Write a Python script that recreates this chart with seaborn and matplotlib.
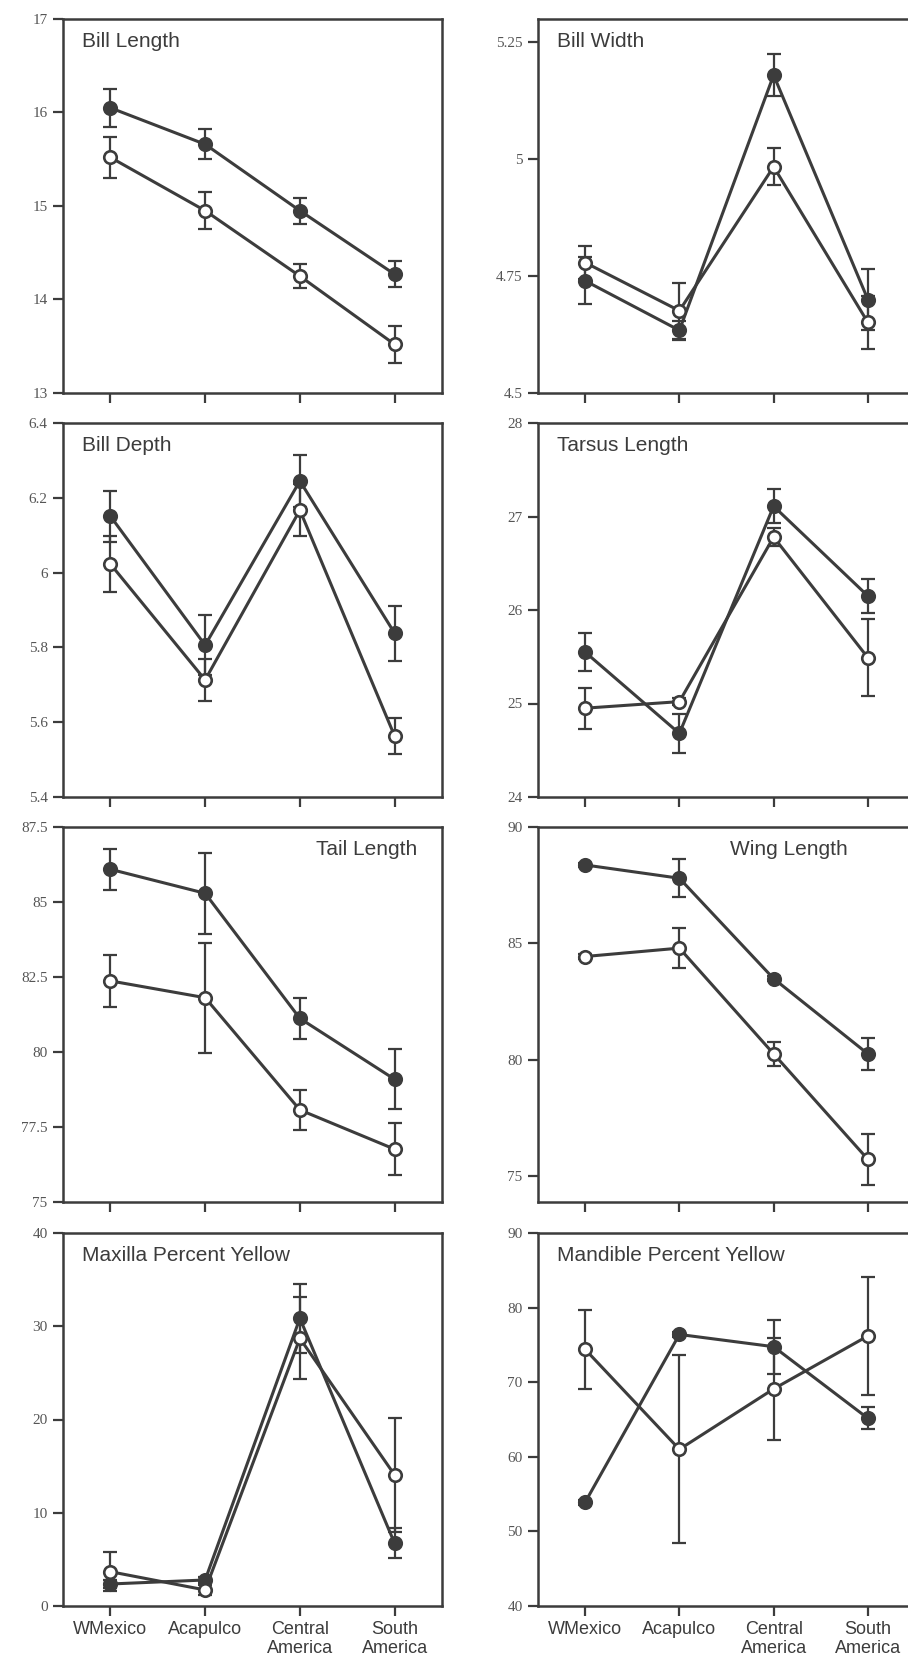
import numpy as np
import pandas as pd
import matplotlib
matplotlib.use("Agg")
import matplotlib.pyplot as plt
import seaborn as sns

sites = ["WMexico", "Acapulco", "Central\nAmerica", "South\nAmerica"]

# means and standard errors, filled symbols vs open symbols
bill_len_f = [16.05, 15.66, 14.95, 14.27]
bill_len_f_se = [0.2, 0.16, 0.14, 0.14]
bill_len_o = [15.52, 14.95, 14.25, 13.52]
bill_len_o_se = [0.22, 0.2, 0.13, 0.2]

bill_wid_f = [4.74, 4.634, 5.18, 4.70]
bill_wid_f_se = [0.05, 0.02, 0.045, 0.065]
bill_wid_o = [4.779, 4.676, 4.984, 4.651]
bill_wid_o_se = [0.035, 0.06, 0.04, 0.056]

bill_dep_f = [6.151, 5.806, 6.245, 5.838]
bill_dep_f_se = [0.068, 0.08, 0.07, 0.074]
bill_dep_o = [6.023, 5.713, 6.167, 5.563]
bill_dep_o_se = [0.074, 0.056, 0.07, 0.048]

tarsus_f = [25.55, 24.68, 27.11, 26.15]
tarsus_f_se = [0.2, 0.21, 0.18, 0.18]
tarsus_o = [24.95, 25.02, 26.78, 25.49]
tarsus_o_se = [0.22, 0.04, 0.1, 0.41]

tail_f = [86.09, 85.29, 81.12, 79.09]
tail_f_se = [0.68, 1.34, 0.68, 1.0]
tail_o = [82.37, 81.81, 78.07, 76.76]
tail_o_se = [0.88, 1.83, 0.66, 0.87]

wing_f = [88.37, 87.8, 83.49, 80.26]
wing_f_se = [0.1, 0.82, 0.1, 0.7]
wing_o = [84.44, 84.8, 80.26, 75.73]
wing_o_se = [0.1, 0.86, 0.5, 1.1]

maxilla_f = [2.36, 2.79, 30.85, 6.72]
maxilla_f_se = [0.4, 0.3, 3.7, 1.6]
maxilla_o = [3.68, 1.72, 28.7, 14.05]
maxilla_o_se = [2.1, 0.5, 4.4, 6.15]

mandible_f = [53.9, 76.4, 74.76, 65.16]
mandible_f_se = [0.3, 0.3, 3.6, 1.5]
mandible_o = [74.4, 61.0, 69.1, 76.2]
mandible_o_se = [5.3, 12.6, 6.8, 7.9]

titles = ["Bill Length", "Bill Width", "Bill Depth", "Tarsus Length",
          "Tail Length", "Wing Length", "Maxilla Percent Yellow", "Mandible Percent Yellow"]
ylims = [(13, 17), (4.5, 5.30), (5.4, 6.4), (24, 28),
         (75, 87.5), (73.9, 90), (0, 40), (40, 90)]
yticks = [[13, 14, 15, 16, 17], [4.5, 4.75, 5, 5.25], [5.4, 5.6, 5.8, 6, 6.2, 6.4], [24, 25, 26, 27, 28],
          [75, 77.5, 80, 82.5, 85, 87.5], [75, 80, 85, 90], [0, 10, 20, 30, 40], [40, 50, 60, 70, 80, 90]]
yticklabels = [["13", "14", "15", "16", "17"], ["4.5", "4.75", "5", "5.25"],
               ["5.4", "5.6", "5.8", "6", "6.2", "6.4"], ["24", "25", "26", "27", "28"],
               ["75", "77.5", "80", "82.5", "85", "87.5"], ["75", "80", "85", "90"],
               ["0", "10", "20", "30", "40"], ["40", "50", "60", "70", "80", "90"]]
title_pos = [(0.05, "left"), (0.05, "left"), (0.05, "left"), (0.05, "left"),
             (0.935, "right"), (0.51, "left"), (0.05, "left"), (0.05, "left")]

series = [
    (bill_len_f, bill_len_f_se, bill_len_o, bill_len_o_se),
    (bill_wid_f, bill_wid_f_se, bill_wid_o, bill_wid_o_se),
    (bill_dep_f, bill_dep_f_se, bill_dep_o, bill_dep_o_se),
    (tarsus_f, tarsus_f_se, tarsus_o, tarsus_o_se),
    (tail_f, tail_f_se, tail_o, tail_o_se),
    (wing_f, wing_f_se, wing_o, wing_o_se),
    (maxilla_f, maxilla_f_se, maxilla_o, maxilla_o_se),
    (mandible_f, mandible_f_se, mandible_o, mandible_o_se),
]

sns.set_style("ticks")
plt.rcParams["font.family"] = ["Liberation Sans", "DejaVu Sans"]

ink = "#3c3c3c"
W, H = 908, 1666
fig = plt.figure(figsize=(W / 100, H / 100), dpi=100)

cols = [(63, 442), (538, 915)]
rows = [(19, 393), (423, 797), (827, 1202), (1233, 1606)]

pos = np.arange(4)

for i, (title, (f, fse, o, ose)) in enumerate(zip(titles, series)):
    r, c = divmod(i, 2)
    x0, x1 = cols[c]
    y0, y1 = rows[r]
    ax = fig.add_axes([x0 / W, 1 - y1 / H, (x1 - x0) / W, (y1 - y0) / H])

    df = pd.DataFrame({"pos": np.concatenate([pos, pos]),
                       "mean": f + o,
                       "se": fse + ose,
                       "group": ["filled"] * 4 + ["open"] * 4})

    for grp, face in [("filled", ink), ("open", "white")]:
        sub = df[df["group"] == grp]
        ax.errorbar(sub["pos"], sub["mean"], yerr=sub["se"], fmt="none",
                    ecolor=ink, elinewidth=1.6, capsize=5, capthick=1.6, zorder=2)
        sns.lineplot(data=sub, x="pos", y="mean", ax=ax, color=ink, lw=2.2,
                     marker="o", markersize=9, markerfacecolor=face,
                     markeredgecolor=ink, markeredgewidth=1.9, zorder=3)

    ax.set_xlim(-0.5, 3.5)
    ax.set_ylim(*ylims[i])
    ax.set_yticks(yticks[i])
    ax.set_yticklabels(yticklabels[i], family="Liberation Serif", fontsize=11, color="#555555")
    ax.set_xticks(pos)
    if r == 3:
        ax.set_xticklabels(sites, fontsize=13, color=ink, linespacing=1.1)
    else:
        ax.set_xticklabels([])
    ax.set_xlabel("")
    ax.set_ylabel("")
    ax.tick_params(direction="out", length=7, width=1.6, color=ink, pad=4)
    for s in ax.spines.values():
        s.set_linewidth(1.8)
        s.set_color(ink)
    tx, ha = title_pos[i]
    ax.text(tx, 0.94, title, transform=ax.transAxes, ha=ha, va="center",
            fontsize=15, color=ink)

fig.savefig("out.png", dpi=100)
